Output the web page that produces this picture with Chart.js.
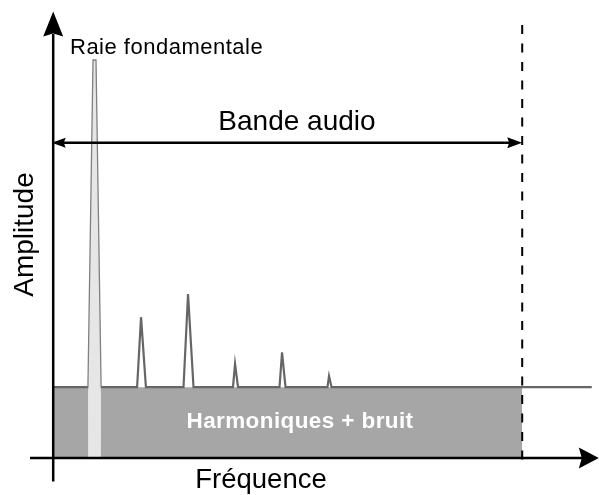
<!DOCTYPE html>
<html lang="fr">
<head>
<meta charset="utf-8">
<title>Spectre audio</title>
<script src="https://cdn.jsdelivr.net/npm/chart.js@4.4.1/dist/chart.umd.min.js"></script>
<style>
  html, body { margin: 0; padding: 0; background: #fff; overflow: hidden; }
  #wrap { width: 599px; height: 495px; position: relative; }
</style>
</head>
<body>
<div id="wrap"><canvas id="spectre"></canvas></div>
<script>
// Données du spectre (fréquence en multiples du fondamental, amplitude en unités arbitraires)
const fondamentaleFreq = 1;
const fondamentaleAmp = 99.5;
const harmoniquesFreq = [2, 3, 4, 5, 6];
const harmoniquesAmp = [35.2, 41, 23.5, 26.4, 20.5];
const niveauBruit = 17.7;
const limiteBande = 10.1;

// Cadre du schéma (positions en unités des axes)
const X_MIN = -1.011, X_MAX = 11.734;
const Y_MIN = -9.25, Y_MAX = 114.5;
const AXE_Y_F = 0.121;          // position de l'axe des amplitudes
const FIN_LIGNE = 11.58;        // fin du trait de bruit à droite
const Y_BANDE = 78.8;           // hauteur de la flèche "Bande audio"

// Petites aides pour les formes
function pics() {
    const pts = [{ x: AXE_Y_F, y: niveauBruit }];
    harmoniquesFreq.forEach((f, i) => {
        const a = harmoniquesAmp[i];
        const hauteurPx = (a - niveauBruit) * 4;
        const demi = Math.min(5, 1.6 + 0.04 * hauteurPx) / 47;
        pts.push({ x: f - demi, y: niveauBruit });
        pts.push({ x: f - 0.01, y: a });
        pts.push({ x: f + 0.01, y: a });
        pts.push({ x: f + demi, y: niveauBruit });
    });
    pts.push({ x: FIN_LIGNE, y: niveauBruit });
    return pts;
}

function raieFondamentale(avecBase) {
    const bas = 6.3 / 47, sol = 6.6 / 47, haut = 1.5 / 47;
    const f = fondamentaleFreq;
    const pts = [
        { x: f - sol, y: niveauBruit },
        { x: f - haut, y: fondamentaleAmp },
        { x: f + haut, y: fondamentaleAmp },
        { x: f + sol, y: niveauBruit }
    ];
    if (avecBase) {
        pts.unshift({ x: f - bas, y: 0 });
        pts.push({ x: f + bas, y: 0 });
    }
    return pts;
}

function pointe(ctx, tx, ty, dx, dy, long, demi, creux) {
    const bx = tx - dx * long, by = ty - dy * long;
    const nx = -dy, ny = dx;
    ctx.beginPath();
    ctx.moveTo(tx, ty);
    ctx.lineTo(bx + nx * demi, by + ny * demi);
    ctx.lineTo(tx - dx * (long - creux), ty - dy * (long - creux));
    ctx.lineTo(bx - nx * demi, by - ny * demi);
    ctx.closePath();
    ctx.fill();
}

const POLICE = "'Liberation Sans', Arial, Helvetica, sans-serif";

const annotations = {
    id: 'annotations',
    afterDatasetsDraw(chart) {
        const { ctx, scales: { x, y } } = chart;
        const px = v => x.getPixelForValue(v);
        const py = v => y.getPixelForValue(v);
        ctx.save();
        ctx.fillStyle = '#000';

        // pointes des axes
        pointe(ctx, px(AXE_Y_F), py(111.6), 0, -1, 25, 10, 3);
        pointe(ctx, px(11.73), py(0), 1, 0, 20, 10.5, 3);
        // flèche double de la bande audio
        pointe(ctx, px(AXE_Y_F) - 1.5, py(Y_BANDE), -1, 0, 14, 5, 2);
        pointe(ctx, px(limiteBande), py(Y_BANDE), 1, 0, 15, 5.5, 2);

        // textes
        ctx.textBaseline = 'alphabetic';
        ctx.font = '22px ' + POLICE;
        ctx.textAlign = 'left';
        ctx.letterSpacing = '0.5px';
        ctx.fillText('Raie fondamentale', 70, 54);
        ctx.letterSpacing = '0px';

        ctx.font = '28px ' + POLICE;
        ctx.textAlign = 'center';
        ctx.fillText('Bande audio', 297, 130);

        ctx.font = '27.5px ' + POLICE;
        ctx.fillText('Fréquence', 261, 488);

        ctx.save();
        ctx.translate(33, 234.5);
        ctx.rotate(-Math.PI / 2);
        ctx.font = '28px ' + POLICE;
        ctx.fillText('Amplitude', 0, 0);
        ctx.restore();

        ctx.fillStyle = '#fff';
        ctx.font = 'bold 22.5px ' + POLICE;
        ctx.letterSpacing = '0.4px';
        ctx.fillText('Harmoniques + bruit', 300, 428);
        ctx.restore();
    }
};

const base = { showLine: true, pointRadius: 0, pointHoverRadius: 0, tension: 0, fill: false };

new Chart(document.getElementById('spectre'), {
    type: 'scatter',
    data: {
        datasets: [
            {   // plancher de bruit dans la bande audio
                ...base,
                data: [{ x: AXE_Y_F, y: niveauBruit }, { x: limiteBande, y: niveauBruit }],
                fill: 'origin',
                backgroundColor: '#a6a6a6',
                borderWidth: 0,
                order: 10
            },
            {   // harmoniques
                ...base,
                data: pics(),
                borderColor: '#666666',
                borderWidth: 2.2,
                order: 8
            },
            {   // raie fondamentale (remplissage)
                ...base,
                data: raieFondamentale(true),
                fill: 'origin',
                backgroundColor: '#e6e6e6',
                borderWidth: 0,
                order: 6
            },
            {   // raie fondamentale (contour)
                ...base,
                data: raieFondamentale(false),
                borderColor: '#808080',
                borderWidth: 1.3,
                order: 5
            },
            {   // axe des fréquences
                ...base,
                data: [{ x: -0.372, y: 0 }, { x: 11.4, y: 0 }],
                borderColor: '#000',
                borderWidth: 2.5,
                order: 3
            },
            {   // axe des amplitudes
                ...base,
                data: [{ x: AXE_Y_F, y: -5.9 }, { x: AXE_Y_F, y: 106 }],
                borderColor: '#000',
                borderWidth: 2.5,
                order: 3
            },
            {   // flèche bande audio
                ...base,
                data: [{ x: AXE_Y_F + 0.1, y: Y_BANDE }, { x: limiteBande - 0.1, y: Y_BANDE }],
                borderColor: '#000',
                borderWidth: 2.5,
                order: 3
            },
            {   // limite de la bande (pointillés)
                ...base,
                data: [{ x: limiteBande, y: 108.25 }, { x: limiteBande, y: -2.5 }],
                borderColor: '#000',
                borderWidth: 2,
                borderDash: [9, 9.5],
                order: 2
            }
        ]
    },
    options: {
        responsive: true,
        maintainAspectRatio: false,
        animation: false,
        layout: { padding: 0 },
        scales: {
            x: { type: 'linear', min: X_MIN, max: X_MAX, display: false },
            y: { type: 'linear', min: Y_MIN, max: Y_MAX, display: false }
        },
        plugins: {
            legend: { display: false },
            tooltip: { enabled: false }
        },
        events: []
    },
    plugins: [annotations]
});
</script>
</body>
</html>
